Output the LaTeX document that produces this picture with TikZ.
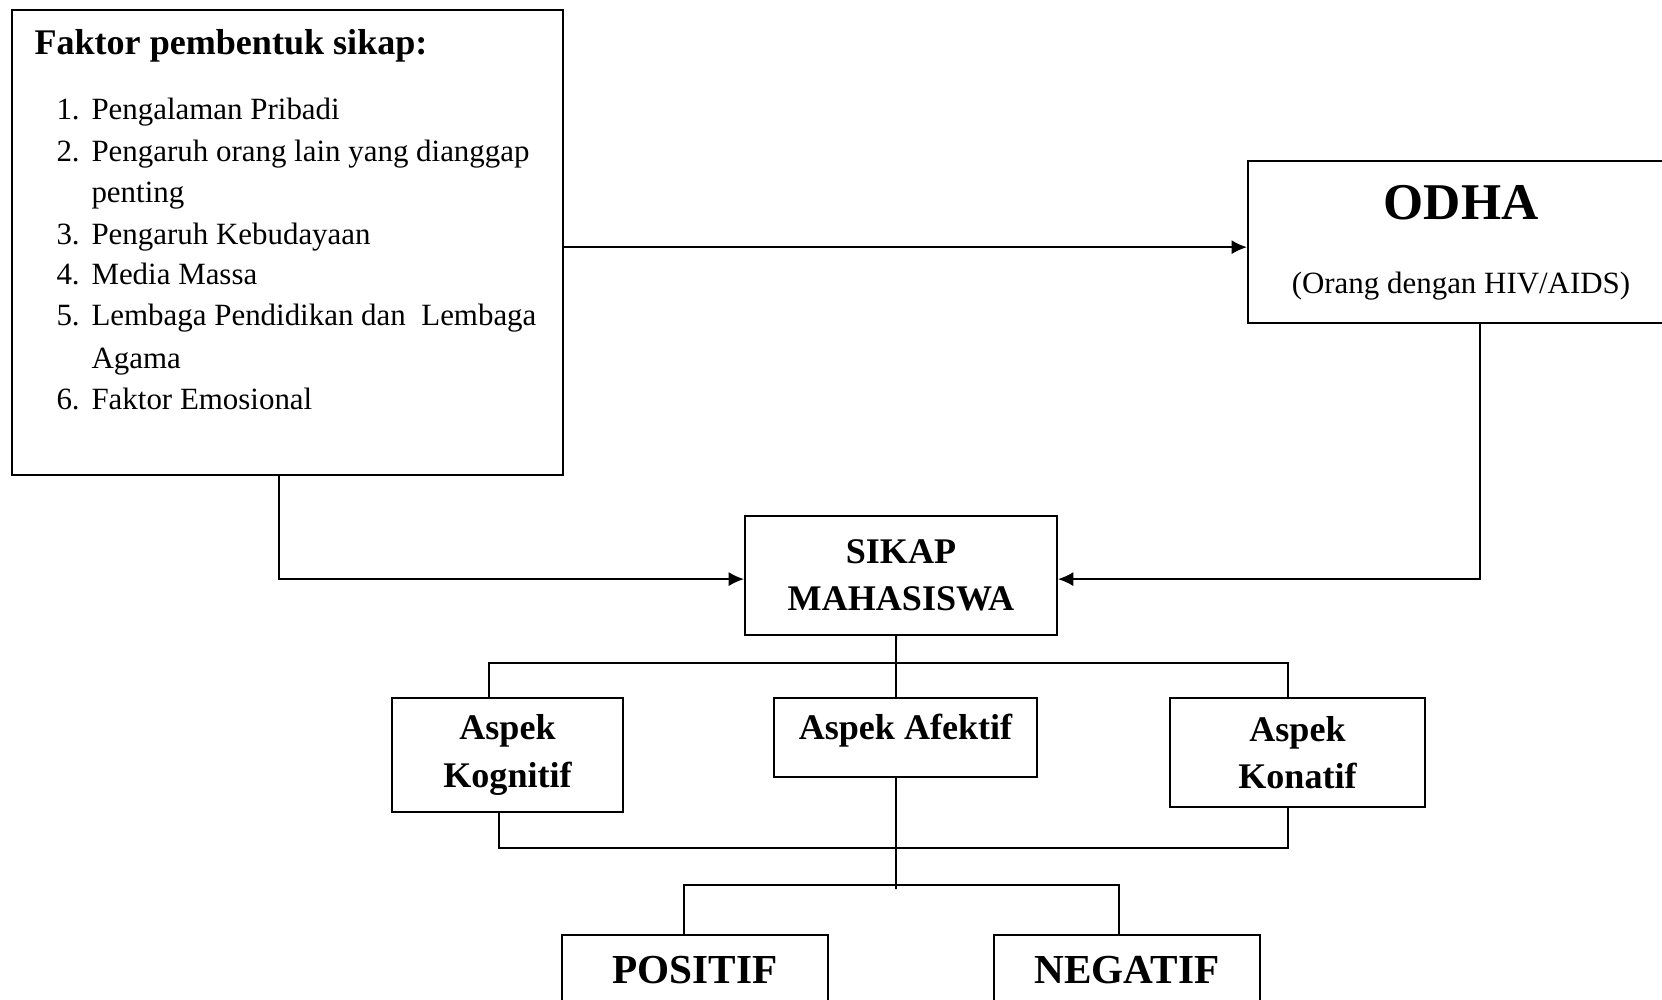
\documentclass[tikz,border=0pt]{standalone}
\usepackage{fontspec}
\setmainfont{Liberation Serif}
\usetikzlibrary{arrows.meta}
\tikzset{>={Latex[length=6pt,width=5.5pt]}}
\tikzset{
  box/.style={draw, rectangle, line width=0.8pt, inner sep=0pt},
  link/.style={line width=0.7pt},
  item/.style={font=\fontsize{12}{14}\selectfont, inner sep=0pt},
  heading/.style={font=\fontsize{14}{18.4}\selectfont\bfseries, align=center},
}

\begin{document}
\begin{tikzpicture}[x=0.388pt,y=-0.388pt]
	\useasboundingbox (0,0) rectangle (1662,1000);
	\clip (0,0) rectangle (1662,1000);

	% faktor pembentuk sikap
	\node[box, minimum width=213.8pt, minimum height=180.4pt] (faktor) at (287.5,242.5) {};
	\node[item, font=\fontsize{14}{17}\selectfont\bfseries, anchor=base west] (judul) at (34,55) {Faktor pembentuk sikap:};
	\foreach \i/\txt/\y in {1/Pengalaman Pribadi/120, 2/Pengaruh orang lain yang dianggap/162, 3/Pengaruh Kebudayaan/244, 4/Media Massa/285, 5/Lembaga Pendidikan dan\ \ Lembaga/326, 6/Faktor Emosional/409}
	{
		\node[item, anchor=base west] (num\i) at (56,\y) {\i.};
		\node[item, anchor=base west] (item\i) at (91,\y) {\txt};
	}
	\node[item, anchor=base west] (item2b) at (91,203) {penting};
	\node[item, anchor=base west] (item5b) at (91,368) {Agama};

	% odha
	\node[box, minimum width=165.3pt, minimum height=62.9pt] (odha) at (1461,242) {};
	\node[item, font=\fontsize{20}{24}\selectfont\bfseries, anchor=base] (odhajudul) at (1461,220) {ODHA};
	\node[item, anchor=base] (odhaket) at (1461,293) {(Orang dengan HIV/AIDS)};

	% sikap dan aspek
	\node[box, heading, minimum width=121pt, minimum height=46.2pt] (sikap) at (901,575.5) {SIKAP\\MAHASISWA};
	\node[box, heading, minimum width=89.6pt, minimum height=44.2pt] (kog) at (507.5,755) {Aspek\\Kognitif};
	\node[box, heading, minimum width=101.7pt, minimum height=30.7pt, text depth=8.4pt] (afek) at (905.5,737.5) {Aspek Afektif};
	\node[box, heading, minimum width=98.9pt, minimum height=42.3pt] (kon) at (1297.5,752.5) {Aspek\\Konatif};

	% hasil
	\node[box, heading, font=\fontsize{16}{19}\selectfont\bfseries, minimum width=103.2pt, minimum height=27.2pt] (pos) at (695,970) {POSITIF};
	\node[box, heading, font=\fontsize{16}{19}\selectfont\bfseries, minimum width=103.2pt, minimum height=27.2pt] (neg) at (1127,970) {NEGATIF};

	% panah
	\draw[link,->] ([yshift=-2pt]faktor.east |- odha.west) -- ([yshift=-2pt]odha.west);
	\draw[link,->] ([xshift=-3.3pt]faktor.south) |- ([yshift=-1.4pt]sikap.west);
	\draw[link,->] ([xshift=7.4pt]odha.south) |- ([yshift=-1.4pt]sikap.east);

	% garis cabang
	\coordinate (busatas) at (896,663);
	\coordinate (bustengah) at (896,848);
	\coordinate (busbawah) at (896,885);
	\coordinate (ujung) at (896,889);
	\draw[link] ([xshift=-1.9pt]sikap.south) -- (busatas);
	\draw[link] (busatas) -- ([xshift=-3.7pt]afek.north);
	\draw[link] ([xshift=-7.2pt]kog.north) |- (busatas) -| ([xshift=-3.7pt]kon.north);
	\draw[link] ([xshift=-3.3pt]kog.south) |- (bustengah) -| ([xshift=-3.7pt]kon.south);
	\draw[link] ([xshift=-3.7pt]afek.south) -- (ujung);
	\draw[link] ([xshift=-4.3pt]pos.north) |- (busbawah) -| ([xshift=-3.1pt]neg.north);
\end{tikzpicture}
\end{document}
